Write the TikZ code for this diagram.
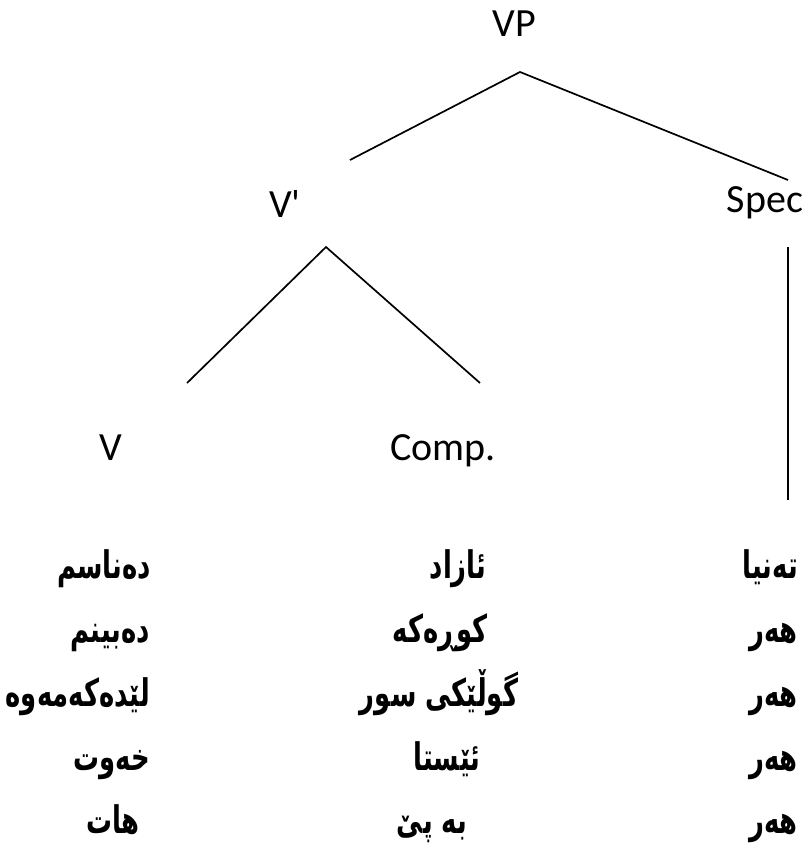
\documentclass[tikz,border=0pt]{standalone}
\usepackage{fontspec}
\setmainfont{Carlito}
\newfontfamily\kurdfont[Script=Arabic, FakeStretch=0.68]{DejaVu Sans}
\TeXXeTstate=1
\usetikzlibrary{calc}

\begin{document}
\begin{tikzpicture}[x=1pt,y=-1pt,
    cat/.style={font=\fontsize{40}{48}\selectfont, inner sep=0pt, anchor=base},
    word/.style={font=\fontsize{38}{44}\kurdfont\bfseries, inner sep=0pt, anchor=base},
    word right/.style={word, anchor=base east},
    branch/.style={line width=1.7pt}]
    \useasboundingbox (0,0) rectangle (807,843);
    % tree labels
    \node[cat] (VP) at (514,37) {VP};
    \node[cat] (Vbar) at (285,217) {V\textquotesingle};
    \node[cat] (Spec) at (765,212) {Spec};
    \node[cat] (V) at (111,460) {V};
    \node[cat] (Comp) at (443,460) {Comp.};
    % branch ends
    \coordinate (vp-top) at (520,72);
    \coordinate (vp-left) at (350,160);
    \coordinate (vp-right) at (788,180);
    \coordinate (vbar-top) at (326,247);
    \coordinate (vbar-left) at (187,383);
    \coordinate (vbar-right) at (480,383);
    \coordinate (spec-top) at (788,247);
    \coordinate (spec-bot) at (788,500);
    % branches
    \draw[branch] (vp-left) -- (vp-top) -- (vp-right);
    \draw[branch] (vbar-left) -- (vbar-top) -- (vbar-right);
    \draw[branch] (spec-top) -- (spec-bot);
    % words under Spec
    \node[word right] (s1) at (798,578) {\beginR تەنیا\endR};
    \node[word right] (s2) at (798,642) {\beginR هەر\endR};
    \node[word right] (s3) at (798,706) {\beginR هەر\endR};
    \node[word right] (s4) at (798,770) {\beginR هەر\endR};
    \node[word right] (s5) at (798,833) {\beginR هەر\endR};
    % words under Comp.
    \node[word] (c1) at (458,578) {\beginR ئازاد\endR};
    \node[word] (c2) at (440,642) {\beginR کوڕەکە\endR};
    \node[word] (c3) at (439,706) {\beginR گوڵێکی سور\endR};
    \node[word] (c4) at (447,770) {\beginR ئێستا\endR};
    \node[word] (c5) at (432,833) {\beginR بە پێ\endR};
    % words under V
    \node[word right] (v1) at (151,578) {\beginR دەناسم\endR};
    \node[word right] (v2) at (150,642) {\beginR دەبینم\endR};
    \node[word right] (v3) at (150,706) {\beginR لێدەکەمەوە\endR};
    \node[word right] (v4) at (150,770) {\beginR خەوت\endR};
    \node[word] (v5) at (113,833) {\beginR هات\endR};
\end{tikzpicture}
\end{document}
